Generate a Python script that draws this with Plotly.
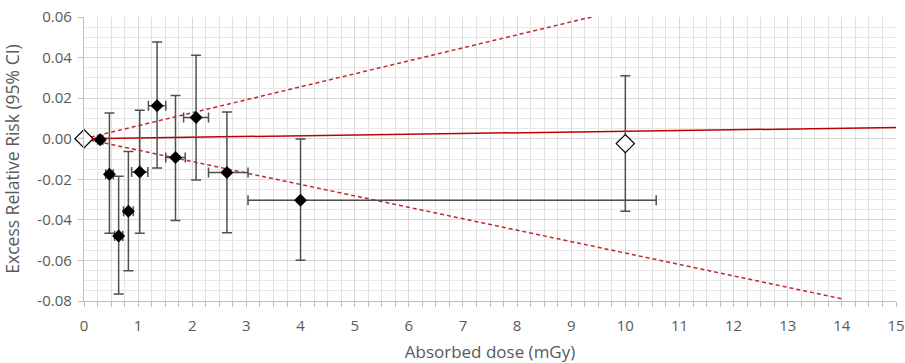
import plotly.graph_objects as go

# --- data ---
dose = [0.30, 0.47, 0.64, 0.82, 1.03, 1.35, 1.69, 2.07, 2.64, 4.00]
err = [-0.0005, -0.0175, -0.0479, -0.0357, -0.0164, 0.0162, -0.0093, 0.0104, -0.0167, -0.0303]
err_hi = [0.0005, 0.0127, -0.0185, -0.0063, 0.0140, 0.0477, 0.0213, 0.0411, 0.0132, -0.0002]
err_lo = [-0.0015, -0.0466, -0.0765, -0.0651, -0.0466, -0.0144, -0.0403, -0.0204, -0.0464, -0.0599]
dose_minus = [0.05, 0.07, 0.075, 0.09, 0.15, 0.16, 0.18, 0.23, 0.34, 0.97]
dose_plus = [0.05, 0.07, 0.075, 0.09, 0.15, 0.16, 0.18, 0.23, 0.39, 6.57]

open_dose = [0, 10]
open_err = [0.0, -0.0024]
open_hi = [0.0, 0.0311]
open_lo = [0.0, -0.0357]

fit_dose = [0, 15]
fit_err = [0, 0.0055]
ci_dose = [0, 14]
ci_upper = [0, 0.0896]
ci_lower = [0, -0.0789]

x_ticks = list(range(0, 16))
y_ticks = [0.06, 0.04, 0.02, 0.0, -0.02, -0.04, -0.06, -0.08]
y_labels = ["0.06", "0.04", "0.02", "0.00", "-0.02", "-0.04", "-0.06", "-0.08"]

TXT = "#595959"
FONT = "Open Sans"

fig = go.Figure()

fig.add_trace(go.Scatter(x=fit_dose, y=fit_err, mode="lines",
                         line=dict(color="#c00000", width=1.5), hoverinfo="skip"))
fig.add_trace(go.Scatter(x=ci_dose, y=ci_upper, mode="lines",
                         line=dict(color="#c0282d", width=1.5, dash="4px,3px"), hoverinfo="skip"))
fig.add_trace(go.Scatter(x=ci_dose, y=ci_lower, mode="lines",
                         line=dict(color="#c0282d", width=1.5, dash="4px,3px"), hoverinfo="skip"))

fig.add_trace(go.Scatter(
    x=dose, y=err, mode="markers",
    marker=dict(symbol="diamond", size=10, color="black"),
    error_y=dict(type="data", symmetric=False,
                 array=[h - v for h, v in zip(err_hi, err)],
                 arrayminus=[v - l for v, l in zip(err, err_lo)],
                 color="#505050", thickness=1.5, width=5),
    error_x=dict(type="data", symmetric=False, array=dose_plus, arrayminus=dose_minus,
                 color="#505050", thickness=1.5, width=5),
))

fig.add_trace(go.Scatter(
    x=open_dose, y=open_err, mode="markers", cliponaxis=False,
    marker=dict(symbol="diamond", size=14, color="white", line=dict(color="black", width=1.2)),
    error_y=dict(type="data", symmetric=False,
                 array=[h - v for h, v in zip(open_hi, open_err)],
                 arrayminus=[v - l for v, l in zip(open_err, open_lo)],
                 color="#505050", thickness=1.5, width=5),
))

fig.update_layout(
    width=905, height=363,
    margin=dict(l=84, r=9, t=17, b=62),
    paper_bgcolor="white", plot_bgcolor="white",
    showlegend=False,
    font=dict(family=FONT, color=TXT, size=15),
    xaxis=dict(range=[0, 15], tickvals=x_ticks, ticks="outside", ticklen=5,
               tickcolor="#bfbfbf", showgrid=True, gridcolor="#d9d9d9", gridwidth=1.3,
               showline=True, linecolor="#bfbfbf", linewidth=1.3, zeroline=False,
               automargin=False, ticklabelstandoff=6,
               minor=dict(dtick=0.25, showgrid=True, gridcolor="#e2e2e2", gridwidth=1,
                          ticks="outside", ticklen=5, tickcolor="#bfbfbf"),
               title=dict(text="Absorbed dose (mGy)", font=dict(size=17, color=TXT), standoff=11),
               tickfont=dict(size=15, color=TXT)),
    yaxis=dict(range=[-0.08, 0.06], tickvals=y_ticks, ticktext=y_labels, ticks="outside",
               ticklen=5, tickcolor="#bfbfbf", showgrid=True, gridcolor="#d9d9d9", gridwidth=1.3,
               showline=True, linecolor="#bfbfbf", linewidth=1.3, zeroline=False,
               automargin=False, ticklabelstandoff=3,
               minor=dict(dtick=0.005, showgrid=True, gridcolor="#e8e8e8", gridwidth=1),
               title=dict(text="Excess Relative Risk (95% CI)", font=dict(size=17.5, color=TXT), standoff=18),
               tickfont=dict(size=15, color=TXT)),
)

fig.write_html("out.html")
